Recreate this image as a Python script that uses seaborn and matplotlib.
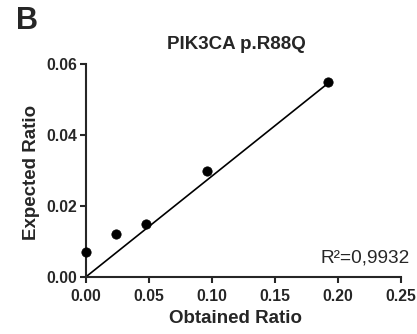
import numpy as np
import pandas as pd
import seaborn as sns
import matplotlib.pyplot as plt

# Values
obtained = [0.000, 0.024, 0.048, 0.096, 0.192]
expected = [0.007, 0.012, 0.015, 0.030, 0.055]
fit_slope = 0.284  # fitted line through origin
r2_label = "R²=0,9932"
x_ticks = [0.00, 0.05, 0.10, 0.15, 0.20, 0.25]
y_ticks = [0.00, 0.02, 0.04, 0.06]

df = pd.DataFrame({"obtained": obtained, "expected": expected})
fit_x = np.array([0.0, max(obtained)])
fit = pd.DataFrame({"x": fit_x, "y": fit_x * fit_slope})

sns.set_style("ticks")
plt.rcParams["font.family"] = ["Liberation Sans", "DejaVu Sans"]

fig = plt.figure(figsize=(4.17, 3.34), dpi=100)
ax = fig.add_axes([0.206, 0.171, 0.755, 0.637])

sns.lineplot(data=fit, x="x", y="y", color="black", linewidth=1.2, ax=ax)
sns.scatterplot(data=df, x="obtained", y="expected", color="black", s=45,
                edgecolor="black", ax=ax, clip_on=False, zorder=3)

ax.set_xlim(0, 0.25)
ax.set_ylim(0, 0.06)
ax.set_xticks(x_ticks)
ax.set_yticks(y_ticks)
ax.set_xticklabels([f"{t:.2f}" for t in x_ticks], fontweight="bold", fontsize=11.3)
ax.set_yticklabels([f"{t:.2f}" for t in y_ticks], fontweight="bold", fontsize=11.3)
ax.tick_params(width=1.5, length=4, direction="out")
ax.tick_params(axis="x", pad=5)
ax.tick_params(axis="y", pad=2)
for side in ["left", "bottom"]:
    ax.spines[side].set_linewidth(1.5)
sns.despine(ax=ax)

ax.set_xlabel("Obtained Ratio", fontweight="bold", fontsize=13.5)
ax.set_ylabel("Expected Ratio", fontweight="bold", fontsize=13.5)
ax.xaxis.set_label_coords(0.476, -0.155)
ax.yaxis.set_label_coords(-0.145, 0.49)
ax.set_title("PIK3CA p.R88Q", fontweight="bold", fontsize=13.5, x=0.479, pad=11)

ax.text(1.03, 0.09, r2_label, transform=ax.transAxes, ha="right",
        va="center", fontsize=13.7)
fig.text(0.038, 0.937, "B", fontweight="bold", fontsize=22, ha="left", va="center")

fig.savefig("out.png", dpi=100)
